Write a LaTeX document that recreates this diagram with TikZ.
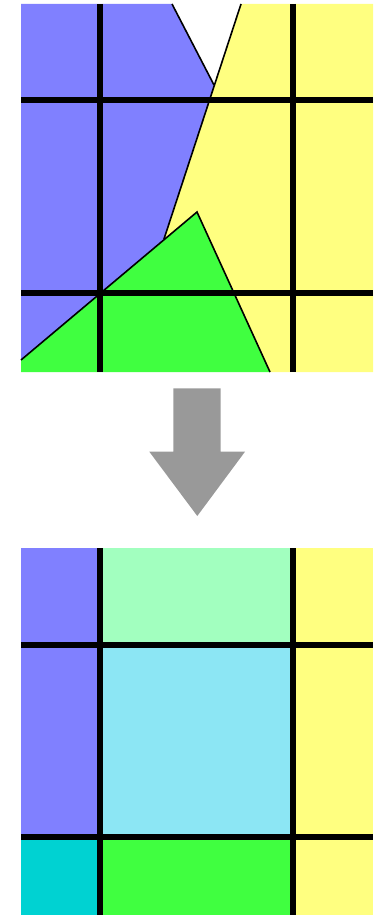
\documentclass[tikz,border=0pt]{standalone}
\usepackage{xcolor}
\definecolor{cblue}{HTML}{8080FF}
\definecolor{cyellow}{HTML}{FFFF80}
\definecolor{cgreen}{HTML}{40FF40}
\definecolor{clgreen}{HTML}{A2FFBF}
\definecolor{ccyan}{HTML}{8CE6F4}
\definecolor{cteal}{HTML}{00D2D2}
\definecolor{cgray}{HTML}{999999}
\begin{document}
\begin{tikzpicture}[x=1pt,y=-1pt,
  gridline/.style={line width=6pt,black},
  edge/.style={line width=1.6pt,black,line join=miter},
  cell/.style={draw=none}]
\useasboundingbox (0,0) rectangle (378,915);
% ---- top panel ----
\coordinate (TL) at (21,4);
\coordinate (TR) at (373,4);
\coordinate (BR) at (373,372);
\coordinate (BL) at (21,372);
\coordinate (B1) at (172,4);
\coordinate (Y1) at (241,4);
\coordinate (P) at (214,85);
\coordinate (Q) at (164,239);
\coordinate (G1) at (21,360);
\coordinate (G2) at (197,212);
\coordinate (G3) at (270,372);
\fill[cblue] (TL) -- (B1) -- (P) -- (Q) -- (G1) -- cycle;
\fill[cyellow] (Y1) -- (TR) -- (BR) -- (G3) -- (G2) -- (Q) -- cycle;
\fill[cgreen] (G1) -- (G2) -- (G3) -- (BL) -- cycle;
\draw[edge] (B1) -- (P);
\draw[edge] (Y1) -- (Q);
\draw[edge] (G1) -- (G2) -- (G3);
\draw[gridline] (100,4) -- (100,372);
\draw[gridline] (293,4) -- (293,372);
\draw[gridline] (21,100) -- (373,100);
\draw[gridline] (21,293) -- (373,293);
% ---- arrow ----
\fill[cgray] (173.3,388.3) -- (220.7,388.3) -- (220.7,451.7) -- (245,451.7)
  -- (197.3,516) -- (149.3,451.7) -- (173.3,451.7) -- cycle;
% ---- bottom panel ----
\fill[cblue] (21,548) rectangle (100,837);
\fill[cteal] (21,837) rectangle (100,915);
\fill[clgreen] (100,548) rectangle (293,645);
\fill[ccyan] (100,645) rectangle (293,837);
\fill[cgreen] (100,837) rectangle (293,915);
\fill[cyellow] (293,548) rectangle (373,915);
\draw[gridline] (100,548) -- (100,915);
\draw[gridline] (293,548) -- (293,915);
\draw[gridline] (21,645) -- (373,645);
\draw[gridline] (21,837) -- (373,837);
\end{tikzpicture}
\end{document}
